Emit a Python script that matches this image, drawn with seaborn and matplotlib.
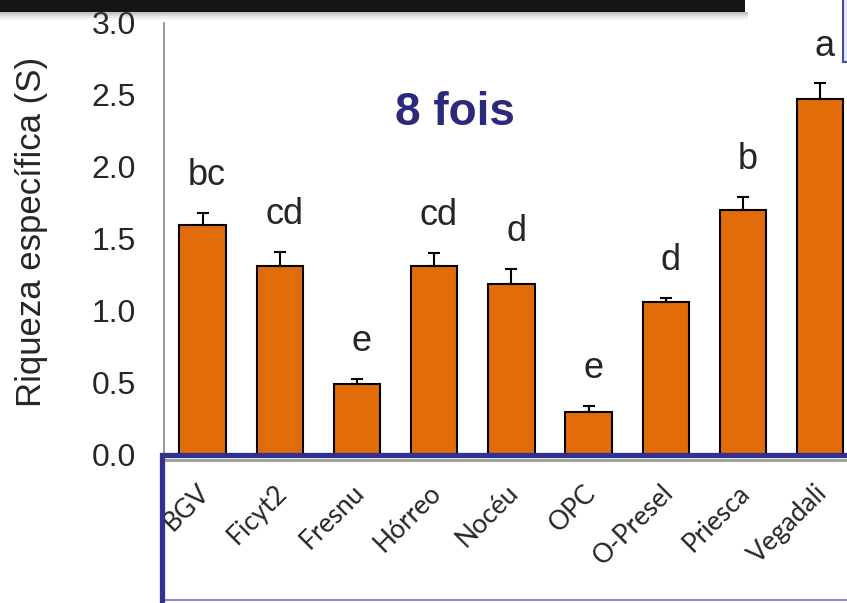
import matplotlib
matplotlib.use('Agg')
import matplotlib.pyplot as plt
import matplotlib.transforms as mtransforms
from matplotlib.patches import Rectangle
from matplotlib.lines import Line2D
import numpy as np
import pandas as pd
import seaborn as sns

# values
sites = ['BGV', 'Ficyt2', 'Fresnu', 'Hórreo', 'Nocéu', 'OPC', 'O-Presel', 'Priesca', 'Vegadali']
riqueza = [1.60, 1.31, 0.49, 1.31, 1.19, 0.30, 1.06, 1.70, 2.47]
error = [0.08, 0.10, 0.04, 0.09, 0.10, 0.04, 0.03, 0.09, 0.11]
letters = ['bc', 'cd', 'e', 'cd', 'd', 'e', 'd', 'b', 'a']
yticks = [0.0, 0.5, 1.0, 1.5, 2.0, 2.5, 3.0]

df = pd.DataFrame({'site': sites, 'S': riqueza, 'se': error})

sns.set_style('white')
plt.rcParams['font.family'] = ['Liberation Sans', 'DejaVu Sans']

W, H = 847, 603
fig = plt.figure(figsize=(W / 100, H / 100), dpi=100)
ax = fig.add_axes([164 / W, (H - 455) / H, 1 - 164 / W, 432 / H])

sns.barplot(data=df, x='site', y='S', color='#E36C0A', saturation=1, width=0.6,
            edgecolor='black', linewidth=1.5, errorbar=None, ax=ax)
n = len(sites)
ax.errorbar(np.arange(n), df['S'], yerr=[np.zeros(n), df['se']], fmt='none',
            ecolor='black', elinewidth=1.5, capsize=4.5, capthick=1.5, zorder=3)

# significance letters above each bar
for i, (m, e, l) in enumerate(zip(riqueza, error, letters)):
    ax.text(i + 0.06, m + e + 0.26, l, ha='center', va='center', fontsize=26)

ax.set_xlim(-0.5, -0.5 + (W - 164) / 77.2)
ax.set_ylim(0, 3.0)
ax.set_yticks(yticks)
ax.set_yticklabels(['%.1f' % t for t in yticks], fontsize=23)
ax.tick_params(axis='y', length=0, pad=20)
ax.set_xlabel('')
ax.set_ylabel('Riqueza específica (S)', fontsize=25)
ax.yaxis.set_label_coords(-0.17, 0.516)

ax.set_xticks(range(n))
ax.set_xticklabels(sites, rotation=45, ha='right', rotation_mode='anchor',
                   fontsize=19, family=['Lato', 'DejaVu Sans'])
ax.tick_params(axis='x', length=0, pad=18)
shift = mtransforms.ScaledTranslation(-4 / 72, 0, fig.dpi_scale_trans)
for lab in ax.get_xticklabels():
    lab.set_transform(lab.get_transform() + shift)

sns.despine(ax=ax, top=True, right=True, bottom=True)
ax.spines['left'].set_color('#888888')
ax.spines['left'].set_linewidth(1.2)

fig.text(455 / W, 1 - 113 / H, '8 fois', fontsize=33, weight='bold', color='#2a2a7c',
         ha='center', va='center')

# slide decorations: dark title bar, side box, box around the site names
for k, a in enumerate([0.35, 0.22, 0.12, 0.05]):
    fig.add_artist(Rectangle((0, 1 - (14 + 2 * k) / H), 748 / W, 2 / H, transform=fig.transFigure,
                             color='#555555', alpha=a, lw=0, zorder=9))
fig.add_artist(Rectangle((0, 1 - 12 / H), 745 / W, 12 / H, transform=fig.transFigure,
                         color='#151515', lw=0, zorder=10))
fig.add_artist(Rectangle((843 / W, 1 - 62 / H), 10 / W, 70 / H, transform=fig.transFigure,
                         facecolor='#e6e6f6', edgecolor='#4a4aa8', lw=1.5, zorder=10))
fig.add_artist(Line2D([165 / W, 1], [1 - 460 / H] * 2, transform=fig.transFigure,
                      color='#9a9a9a', lw=2, zorder=9))
fig.add_artist(Line2D([162 / W, 1], [1 - 600 / H] * 2, transform=fig.transFigure,
                      color='#8c8cd0', lw=1.5, zorder=10))
fig.add_artist(Line2D([162 / W, 162 / W, 1], [0, 1 - 454.5 / H, 1 - 454.5 / H],
                      transform=fig.transFigure, color='#31318f', lw=3.8, zorder=11,
                      solid_joinstyle='miter'))

plt.savefig('out.png', dpi=100)
plt.close(fig)
